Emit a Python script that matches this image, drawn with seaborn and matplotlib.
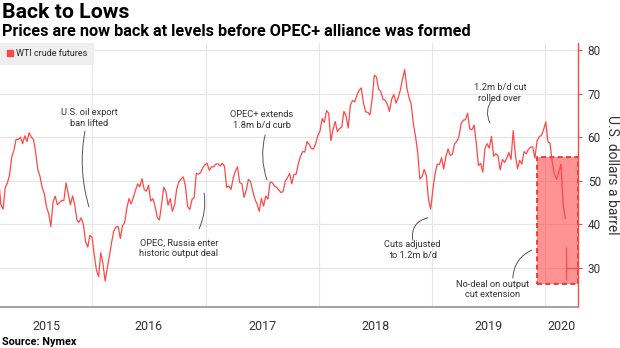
import pandas as pd
import matplotlib
matplotlib.use("Agg")
import matplotlib.pyplot as plt
import matplotlib.dates as mdates
from matplotlib.patches import Rectangle
from matplotlib.lines import Line2D
import seaborn as sns

# Weekly WTI crude futures prices (USD per barrel), one value per Friday from 6 Mar 2015
wti_2015 = [50.0, 44.5, 43.5, 48.5,
            49.5, 51.5, 55.5, 57.0,
            59.5, 59.5, 60.0, 58.5, 60.3,
            59.0, 61.0, 60.0, 59.5,
            56.5, 52.5, 51.0, 48.5, 47.0,
            44.0, 42.5, 39.5, 45.0,
            46.5, 44.5, 45.0, 45.5,
            45.5, 49.5, 47.0, 44.5, 46.5,
            44.5, 41.0, 40.5, 41.5,
            40.0, 36.0, 34.8, 37.5]
wti_2016 = [37.0, 33.0, 29.5, 28.0, 33.5,
            31.0, 27.0, 30.0, 32.8,
            35.9, 38.5, 39.4, 39.5,
            36.8, 39.7, 40.4, 43.7, 45.9,
            44.7, 46.2, 47.8, 49.3,
            48.6, 50.5, 48.0, 47.6,
            49.0, 45.4, 45.9, 44.2, 41.6,
            41.0, 44.5, 48.5, 47.6,
            44.4, 45.9, 43.0, 44.5, 48.2,
            49.8, 50.4, 50.9, 48.7,
            44.1, 43.4, 45.7, 46.1,
            51.7, 51.5, 51.9, 53.0, 53.7]
wti_2017 = [54.0, 52.4, 53.2, 53.2,
            53.8, 53.9, 53.4, 54.0,
            53.3, 48.5, 48.8, 48.0, 50.6,
            52.2, 53.2, 49.6, 49.3,
            46.2, 47.8, 50.3, 49.8,
            47.7, 45.8, 44.7, 43.0, 46.0,
            44.2, 46.5, 45.8, 49.7,
            49.6, 48.8, 48.5, 47.9,
            47.3, 47.5, 49.9, 50.7, 51.7,
            49.3, 51.5, 51.5, 53.9,
            55.6, 56.7, 56.6, 59.0,
            58.4, 57.4, 57.3, 58.5, 60.4]
wti_2018 = [61.4, 64.3, 63.4, 66.1,
            65.5, 59.2, 61.7, 63.6,
            61.3, 62.0, 62.3, 65.9, 64.9,
            62.1, 67.4, 68.4, 68.1,
            69.7, 70.7, 71.3, 67.9,
            65.8, 65.7, 65.1, 68.6, 74.2,
            73.8, 71.0, 70.5, 68.7,
            68.5, 67.6, 65.9, 68.7, 69.8,
            67.8, 69.0, 70.8, 73.3,
            75.5, 71.3, 69.1, 67.6,
            63.1, 60.2, 56.5, 50.4, 50.9,
            52.6, 51.2, 45.6, 43.5]
wti_2019 = [48.0, 51.6, 53.8, 53.7,
            55.3, 52.7, 55.6, 57.3,
            55.8, 56.1, 58.5, 59.0, 60.1,
            63.1, 63.9, 64.0, 65.5,
            61.9, 61.7, 62.8, 58.6, 53.5,
            54.0, 52.0, 57.4, 58.5,
            57.5, 60.2, 55.6, 56.2,
            55.7, 52.5, 54.9, 54.2, 55.1,
            56.5, 54.9, 61.5, 55.9,
            52.8, 54.7, 53.8, 56.7,
            56.2, 57.2, 57.7, 57.8, 55.2,
            59.2, 60.1, 60.4, 61.7]
wti_2020 = [63.5, 59.0, 58.5, 54.2, 51.6,
            50.3, 52.1, 53.8, 44.8, 41.3]
first_friday = "2015-03-06"

# Trading on 9 Mar 2020: intraday range and latest price
last_day = "2020-03-09"
last_day_high, last_day_low = 34.9, 27.3
last_price = 30.0

# Price zone since the Dec 2019 OPEC+ meeting
zone_start = "2019-12-05"
zone_low, zone_high = 26.3, 55.4

years = [2015, 2016, 2017, 2018, 2019, 2020]
price_ticks = [30, 40, 50, 60, 70, 80]

# (text, text date, text level, leader start date, start level, leader end date, end level, curvature)
notes = [
    ("U.S. oil export\nban lifted", "2015-12-22", 64.4, "2015-12-09", 61.4, "2015-12-22", 44.0, 0.12),
    ("OPEC, Russia enter\nhistoric output deal", "2016-10-07", 34.6, "2016-12-11", 39.0, "2016-12-27", 47.2, 0.15),
    ("OPEC+ extends\n1.8m b/d curb", "2017-07-02", 63.9, "2017-07-12", 60.5, "2017-07-18", 50.2, 0.15),
    ("Cuts adjusted\nto 1.2m b/d", "2018-10-31", 34.1, "2018-10-31", 36.4, "2018-12-19", 41.5, -0.45),
    ("1.2m b/d cut\nrolled over", "2019-08-08", 70.1, "2019-07-13", 68.5, "2019-07-07", 63.3, 0.3),
    ("No-deal on output\ncut extension", "2019-07-16", 25.0, "2019-09-19", 27.7, "2019-11-19", 34.1, -0.3),
]

prices = wti_2015 + wti_2016 + wti_2017 + wti_2018 + wti_2019 + wti_2020
dates = pd.date_range(first_friday, periods=len(prices), freq="W-FRI")
df = pd.DataFrame({"date": dates, "price": prices})

sns.set_theme(style="white")
plt.rcParams["font.family"] = ["Roboto", "DejaVu Sans"]

RED = "#ff4848"
TEXT = "#333333"
GRID = "#e6e6e6"

fig = plt.figure(figsize=(6.2, 3.48), dpi=100)
ax = fig.add_axes([0.0, 41 / 348, 578 / 620, 264 / 348])

x_min = pd.Timestamp("2015-03-10")
x_max = pd.Timestamp("2020-04-16")

# highlighted zone
x0 = mdates.date2num(pd.Timestamp(zone_start))
x1 = mdates.date2num(x_max)
ax.add_patch(Rectangle((x0, zone_low), x1 - x0, zone_high - zone_low,
                       facecolor=(1.0, 0.27, 0.27, 0.58), edgecolor="#e62828",
                       linestyle=(0, (3, 2)), linewidth=1.2, zorder=2))

sns.lineplot(data=df, x="date", y="price", ax=ax, color=RED, linewidth=0.9, zorder=3)
ax.vlines(pd.Timestamp(last_day), last_day_low, last_day_high, color=RED, linewidth=0.9, zorder=3)
ax.hlines(last_price, pd.Timestamp(last_day), x_max, color=RED, linewidth=0.9, zorder=3)

ax.set_xlim(x_min, x_max)
ax.set_ylim(21.05, 81.6)
ax.set_xlabel("")

# x axis: long separators at year starts, small quarter ticks
ax.xaxis.set_major_locator(mdates.YearLocator())
ax.xaxis.set_minor_locator(mdates.MonthLocator(bymonth=[4, 7, 10]))
ax.tick_params(axis="x", which="major", length=19, width=0.8, color="#cfcfcf",
               labelbottom=False, direction="out")
ax.tick_params(axis="x", which="minor", length=2.5, width=0.8, color="#666666", direction="out")
ax.grid(axis="x", which="major", color=GRID, linewidth=0.8)
ax.grid(axis="y", color=GRID, linewidth=0.8)

xt = ax.get_xaxis_transform()
for y in years:
    start = max(pd.Timestamp(f"{y}-01-01"), x_min)
    end = min(pd.Timestamp(f"{y + 1}-01-01"), x_max)
    mid = start + (end - start) / 2
    ax.text(mid, -19 / 264, str(y), transform=xt, ha="center", va="center",
            fontsize=9, color=TEXT)

# y axis on the right
ax.yaxis.tick_right()
ax.set_yticks(price_ticks)
ax.tick_params(axis="y", length=3, width=0.8, color=RED, labelcolor=TEXT,
               labelsize=8.5, pad=4, direction="out")
ax.set_ylabel("U.S. dollars a barrel", fontsize=10, color=TEXT, rotation=270)
ax.yaxis.set_label_position("right")
ax.yaxis.set_label_coords(612 / 578, 0.5)
ax.yaxis.label.set_va("center")
ax.yaxis.label.set_ha("center")

for side in ("left", "top"):
    ax.spines[side].set_visible(False)
ax.spines["right"].set_color(RED)
ax.spines["right"].set_linewidth(1.0)
ax.spines["bottom"].set_color("#9a9a9a")
ax.spines["bottom"].set_linewidth(1.3)

# annotations with thin leader lines
for text, td, tv, sd, sv, ed, ev, rad in notes:
    ax.text(pd.Timestamp(td), tv, text, ha="center", va="center", fontsize=6.7,
            color=TEXT, linespacing=1.2, zorder=4)
    ax.annotate("", xy=(pd.Timestamp(ed), ev), xytext=(pd.Timestamp(sd), sv),
                arrowprops=dict(arrowstyle="-", color="#555555", lw=0.7,
                                connectionstyle=f"arc3,rad={rad}",
                                shrinkA=0, shrinkB=0), zorder=4)

handle = Line2D([], [], marker="s", color=RED, linestyle="none", markersize=4.5)
ax.legend([handle], ["WTI crude futures"], loc="upper left", bbox_to_anchor=(0, 1),
          borderaxespad=0, frameon=True, fancybox=False, facecolor="#efefef",
          edgecolor="none", framealpha=1, fontsize=6.5, handlelength=0.8,
          handletextpad=0.3, borderpad=0.7)

fig.text(2 / 620, 1 - 13 / 348, "Back to Lows", fontsize=15.3, fontweight="bold",
         color="black", va="center", ha="left")
fig.text(2 / 620, 1 - 31 / 348, "Prices are now back at levels before OPEC+ alliance was formed",
         fontsize=11.7, fontweight="bold", color="black", va="center", ha="left")
fig.text(2 / 620, 1 - 342 / 348, "Source: Nymex", fontsize=7.8, fontweight="bold",
         color="black", va="center", ha="left")

fig.savefig("out.png", dpi=100)
